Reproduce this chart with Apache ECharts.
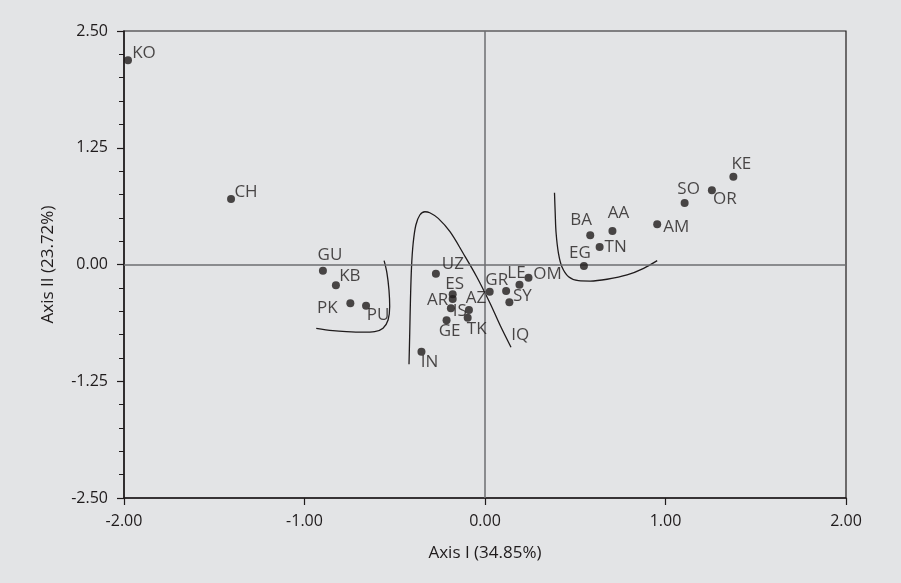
<!DOCTYPE html>
<html>
<head>
<meta charset="utf-8">
<script src="https://cdn.jsdelivr.net/npm/echarts@6/dist/echarts.min.js"></script>
<style>
html,body{margin:0;padding:0;background:#e3e4e6;}
#c{width:901px;height:583px;}
</style>
</head>
<body>
<div id="c"></div>
<script>
// ---- data ----
var names = ['KO','CH','GU','KB','PK','PU','UZ','ES','AR','IS','AZ','TK','GE','IN','GR','IQ','LE','OM','SY','EG','BA','AA','TN','AM','SO','OR','KE'];
var axis1 = [-1.978,-1.407,-0.898,-0.826,-0.746,-0.659,-0.272,-0.179,-0.179,-0.189,-0.089,-0.096,-0.213,-0.352,0.026,0.117,0.191,0.241,0.135,0.548,0.583,0.706,0.635,0.954,1.106,1.257,1.376];
var axis2 = [2.188,0.701,-0.066,-0.223,-0.415,-0.441,-0.098,-0.319,-0.369,-0.469,-0.487,-0.569,-0.597,-0.933,-0.291,-0.283,-0.216,-0.141,-0.404,-0.016,0.312,0.358,0.187,0.430,0.658,0.794,0.939];

var curveLeftX  = [-0.559,-0.543,-0.532,-0.528,-0.537,-0.565,-0.611,-0.676,-0.768,-0.843,-0.935];
var curveLeftY  = [0.041,-0.094,-0.273,-0.451,-0.594,-0.683,-0.719,-0.725,-0.719,-0.708,-0.683];
var curveMidX   = [-0.421,-0.417,-0.413,-0.407,-0.398,-0.383,-0.361,-0.333,-0.306,-0.259,-0.194,-0.121,-0.046,0.028,0.083,0.144];
var curveMidY   = [-1.068,-0.736,-0.380,-0.024,0.227,0.423,0.530,0.565,0.554,0.494,0.351,0.120,-0.131,-0.415,-0.648,-0.886];
var curveRightX = [0.385,0.389,0.394,0.407,0.426,0.463,0.518,0.583,0.676,0.787,0.879,0.954];
var curveRightY = [0.768,0.548,0.334,0.120,-0.024,-0.131,-0.173,-0.177,-0.158,-0.112,-0.041,0.041];

var xTicks = {min:-2, max:2, interval:1};
var yTicks = {min:-2.5, max:2.5, interval:1.25};

// ---- label placement (style) ----
var labelOffset = {
  KO:[16,-7], CH:[15,-7], GU:[7,-16], KB:[14,-9], PK:[-23,5], PU:[12,9],
  UZ:[17,-9], ES:[2,-10], AR:[-15,1], IS:[9,3], AZ:[7,-12], TK:[9,12], GE:[3,11],
  IN:[8,11], GR:[7,-12], IQ:[14,44], LE:[-3,-12], OM:[19,-4], SY:[13,-6],
  EG:[-4,-13], BA:[-9,-15], AA:[6,-18], TN:[16,0], AM:[19,3], SO:[4,-14], OR:[13,9], KE:[8,-13]
};

var FONT = '"Open Sans","Noto Sans",sans-serif';
var INK = '#1f1b1c';

function zip(a,b){ return a.map(function(v,i){ return [v,b[i]]; }); }

var pts = names.map(function(n,i){
  return {
    name:n, value:[axis1[i],axis2[i]],
    label:{offset:labelOffset[n]}
  };
});

function curve(xs,ys){
  return {
    type:'line', data:zip(xs,ys), smooth:0.35, symbol:'none', silent:true,
    lineStyle:{color:INK,width:1.3}, z:3
  };
}

var chart = echarts.init(document.getElementById('c'), null, {renderer:'canvas'});
chart.setOption({
  backgroundColor:'#e3e4e6',
  animation:false,
  grid:{left:124,right:55,top:31,bottom:85,show:true,borderColor:INK,borderWidth:1.2,backgroundColor:'transparent'},
  xAxis:{
    type:'value', min:xTicks.min, max:xTicks.max, interval:xTicks.interval,
    name:'Axis I (34.85%)', nameLocation:'middle', nameGap:47,
    nameTextStyle:{fontFamily:FONT,fontSize:17,color:INK},
    axisLine:{show:true,onZero:false,lineStyle:{color:INK,width:1.5}},
    axisTick:{show:true,length:7,lineStyle:{color:INK,width:1.2}},
    axisLabel:{fontFamily:FONT,fontSize:16,color:INK,margin:15,formatter:function(v){return v.toFixed(2);}},
    splitLine:{show:false}
  },
  yAxis:{
    type:'value', min:yTicks.min, max:yTicks.max, interval:yTicks.interval,
    name:'Axis II (23.72%)', nameLocation:'middle', nameGap:67,
    nameTextStyle:{fontFamily:FONT,fontSize:17,color:INK},
    axisLine:{show:true,onZero:false,lineStyle:{color:INK,width:1.5}},
    axisTick:{show:true,length:7,lineStyle:{color:INK,width:1.2}},
    minorTick:{show:true,splitNumber:5,length:5,lineStyle:{color:INK,width:1}},
    axisLabel:{fontFamily:FONT,fontSize:16,color:INK,margin:16,formatter:function(v){return v.toFixed(2);}},
    splitLine:{show:false}
  },
  series:[
    {
      type:'scatter', data:pts, symbol:'circle', symbolSize:8, z:5,
      itemStyle:{color:INK},
      label:{show:true,position:'inside',align:'center',verticalAlign:'middle',
        formatter:'{b}',fontFamily:FONT,fontSize:17,color:INK},
      markLine:{
        silent:true, symbol:'none', label:{show:false},
        lineStyle:{color:'#6d6e71',width:1.5,type:'solid'},
        data:[{xAxis:0},{yAxis:0}]
      }
    },
    curve(curveLeftX,curveLeftY),
    curve(curveMidX,curveMidY),
    curve(curveRightX,curveRightY)
  ]
});
</script>
</body>
</html>
